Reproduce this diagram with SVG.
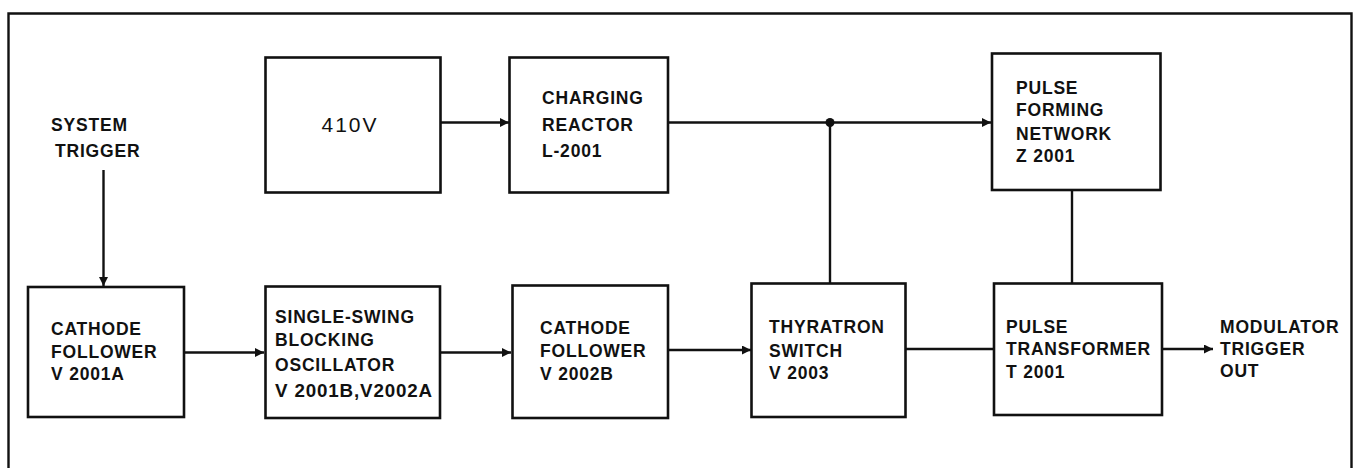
<svg xmlns="http://www.w3.org/2000/svg" width="1359" height="468" viewBox="0 0 1359 468">
<style>
.box{fill:#fff;stroke:#111;stroke-width:2.6}
.ln{fill:none;stroke:#111;stroke-width:2.4}
text{font-family:"Liberation Sans",Arial,sans-serif;font-size:17.5px;font-weight:bold;fill:#111;letter-spacing:0.8px}
text.big{font-size:21px;font-weight:normal;letter-spacing:2px}
</style>
<defs>
<marker id="ah" viewBox="0 0 10 10" refX="10" refY="5" markerWidth="11" markerHeight="9" markerUnits="userSpaceOnUse" orient="auto">
<path d="M0,0 L10,5 L0,10 z" fill="#111"/>
</marker>
</defs>
<rect width="1359" height="468" fill="#fff"/>
<path class="ln" d="M8.5,475 V13.5 H1351.5 V475"/>
<g id="connectors">
<path class="ln" d="M103.5,170 V286" marker-end="url(#ah)"/>
<path class="ln" d="M440,122.5 H509" marker-end="url(#ah)"/>
<path class="ln" d="M668,122.5 H991" marker-end="url(#ah)"/>
<circle cx="830" cy="122.5" r="4.5" fill="#111"/>
<path class="ln" d="M830,122.5 V283"/>
<path class="ln" d="M1072,190 V283"/>
<path class="ln" d="M184,352.5 H264" marker-end="url(#ah)"/>
<path class="ln" d="M440,352.5 H511" marker-end="url(#ah)"/>
<path class="ln" d="M668,350 H751" marker-end="url(#ah)"/>
<path class="ln" d="M905.5,349 H994"/>
<path class="ln" d="M1162,349 H1213" marker-end="url(#ah)"/>
</g>
<g id="system-trigger">
<text x="51" y="131">SYSTEM</text>
<text x="55" y="157">TRIGGER</text>
</g>
<g id="supply-410v">
<rect class="box" x="265.5" y="57.5" width="175" height="135"/>
<text class="big" x="350" y="132" text-anchor="middle">410V</text>
</g>
<g id="charging-reactor">
<rect class="box" x="509.5" y="57.5" width="158.5" height="135"/>
<text x="542" y="104">CHARGING</text>
<text x="542" y="131">REACTOR</text>
<text x="542" y="157">L-2001</text>
</g>
<g id="pulse-forming-network">
<rect class="box" x="992" y="53.5" width="168.5" height="136.5"/>
<text x="1016" y="94">PULSE</text>
<text x="1016" y="116">FORMING</text>
<text x="1016" y="140">NETWORK</text>
<text x="1016" y="162">Z 2001</text>
</g>
<g id="cathode-follower-a">
<rect class="box" x="28" y="287" width="156" height="130"/>
<text x="51" y="335">CATHODE</text>
<text x="51" y="358">FOLLOWER</text>
<text x="51" y="380">V 2001A</text>
</g>
<g id="blocking-oscillator">
<rect class="box" x="265.5" y="286.5" width="174.5" height="131.5"/>
<text x="275" y="323">SINGLE-SWING</text>
<text x="275" y="346">BLOCKING</text>
<text x="275" y="371">OSCILLATOR</text>
<text x="275" y="397" textLength="158" lengthAdjust="spacingAndGlyphs">V 2001B,V2002A</text>
</g>
<g id="cathode-follower-b">
<rect class="box" x="512.5" y="285.5" width="155.5" height="132.5"/>
<text x="540" y="334">CATHODE</text>
<text x="540" y="357">FOLLOWER</text>
<text x="540" y="380">V 2002B</text>
</g>
<g id="thyratron-switch">
<rect class="box" x="751.5" y="283.5" width="154" height="133.5"/>
<text x="769" y="333">THYRATRON</text>
<text x="769" y="357">SWITCH</text>
<text x="769" y="379">V 2003</text>
</g>
<g id="pulse-transformer">
<rect class="box" x="994" y="283.5" width="168" height="131.5"/>
<text x="1006" y="333">PULSE</text>
<text x="1006" y="355">TRANSFORMER</text>
<text x="1006" y="378">T 2001</text>
</g>
<g id="modulator-trigger-out">
<text x="1220" y="333">MODULATOR</text>
<text x="1220" y="355">TRIGGER</text>
<text x="1220" y="377">OUT</text>
</g>
</svg>
